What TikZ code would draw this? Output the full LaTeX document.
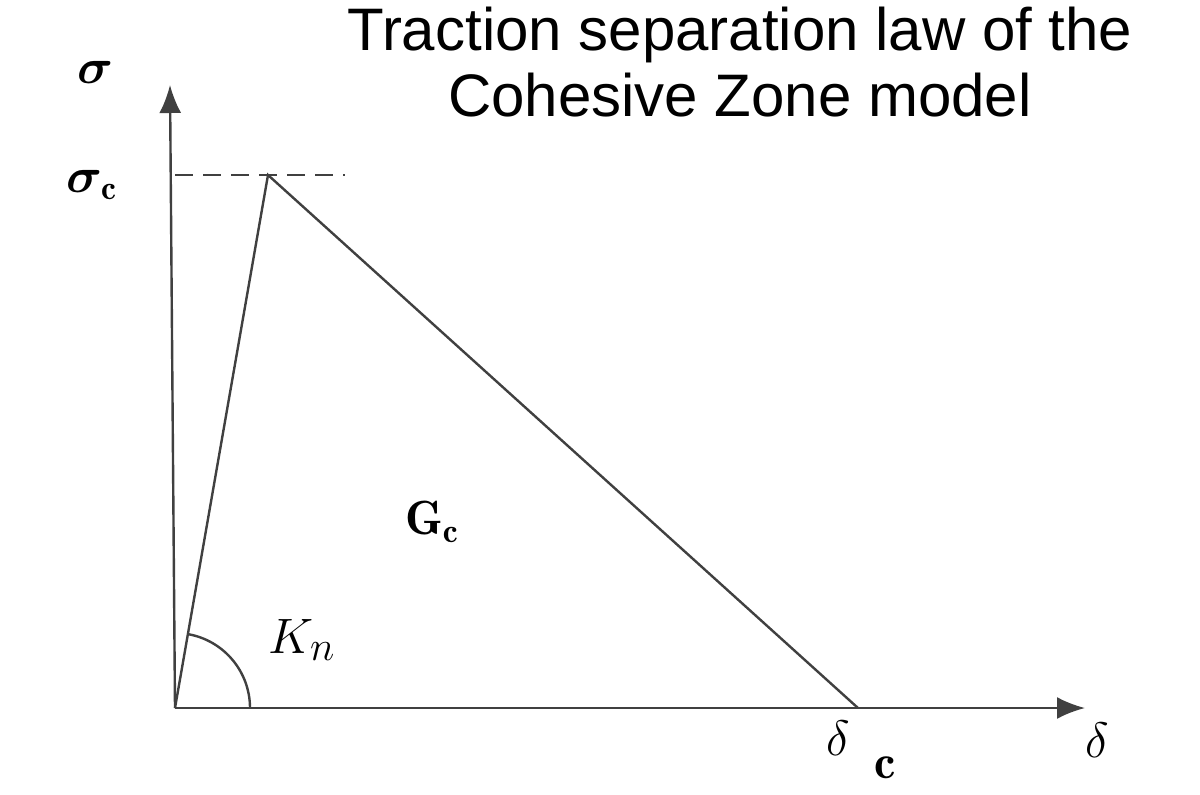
\documentclass[tikz,border=0pt]{standalone}
\usepackage{fontspec}
\usepackage{amsmath,bm}
\usetikzlibrary{arrows.meta,calc}
\newfontfamily\titlefont{Liberation Sans}
\begin{document}
\begin{tikzpicture}[x=0.5pt,y=-0.5pt,
  ln/.style={line width=1.2pt,black!75},
  lab/.style={inner sep=0pt,font=\fontsize{24}{26}\selectfont}]
\useasboundingbox (0,0) rectangle (1200,794);
\coordinate (O) at (175,708);
\coordinate (Ytip) at (170,85);
\coordinate (Xtip) at (1085,708);
\coordinate (P) at (268,175);
\coordinate (D) at (858,708);
\coordinate (Dl) at (175,175);
\coordinate (Dr) at (345,175);
\draw[ln,-{Latex[length=14pt,width=11pt]}] (O) -- (Ytip);
\draw[ln,-{Latex[length=14pt,width=11pt]}] (O) -- (Xtip);
\draw[ln] (O) -- (P) -- (D);
\draw[ln,dash pattern=on 9pt off 5pt] (Dl) -- (Dr);
\draw[ln] (O) ++(-80:75) arc[start angle=-80,end angle=0,radius=75];
\node[lab] (s) at (95,72) {$\bm{\sigma}$};
\node[lab] (sc) at (92,185) {$\bm{\sigma_{\mathrm c}}$};
\node[lab] (gc) at (432,522) {$\mathbf{G_c}$};
\node[lab,font=\fontsize{28}{30}\selectfont] (kn) at (302,640) {$K_n$};
\node[lab,font=\fontsize{30}{32}\selectfont] (dc) at (838,738) {$\delta$};
\node[lab] (c) at (885,768) {$\mathbf{c}$};
\node[lab,font=\fontsize{30}{32}\selectfont] (dd) at (1097,740) {$\delta$};
\node[font=\titlefont\fontsize{30}{33}\selectfont,align=center,inner sep=0pt] (t) at (740,62) {Traction separation law of the\\Cohesive Zone model};
\end{tikzpicture}
\end{document}
